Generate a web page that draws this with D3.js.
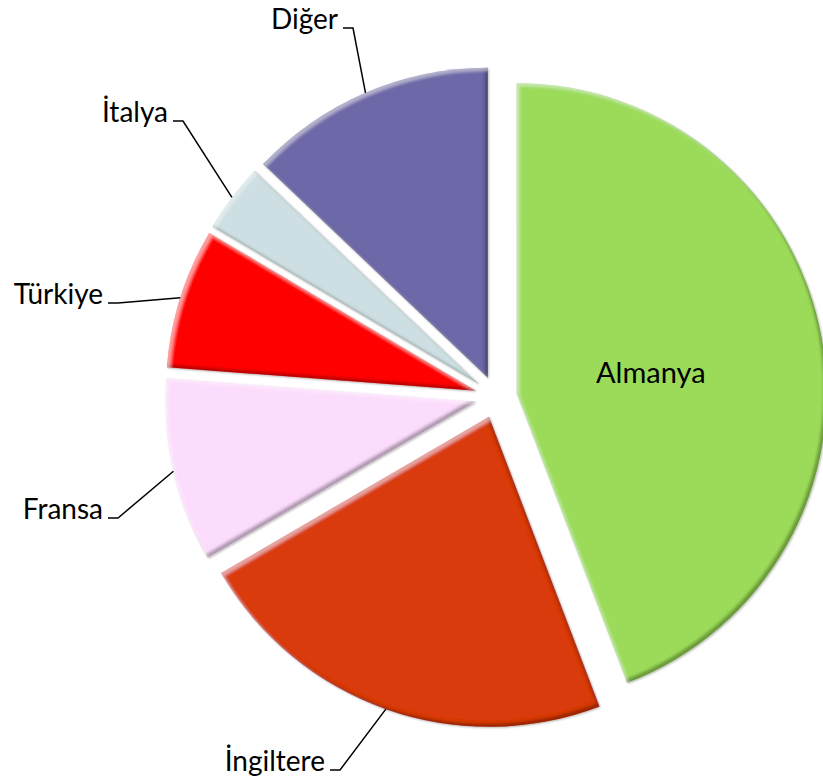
<!DOCTYPE html>
<html>
<head>
<meta charset="utf-8">
<script src="https://cdn.jsdelivr.net/npm/d3@7"></script>
<style>
  body { margin: 0; background: #fff; }
  text { font-family: Lato, "Open Sans", sans-serif; fill: #000; }
</style>
</head>
<body>
<div id="chart"></div>
<script>
// data
var categories = ["Almanya", "İngiltere", "Fransa", "Türkiye", "İtalya", "Diğer"];
var values = [44.2, 22.4, 9.6, 7.3, 3.6, 12.9];
var colors = ["#9CDB5A", "#D93A07", "#FCDCFC", "#FF0000", "#CDDFE2", "#6D68A8"];
// elbow of each leader line (outside labels); null = label inside slice
var labelElbows = [null, [340, 770], [118, 518], [118, 303], [183, 121], [353, 28]];

var width = 823, height = 778,
    cx = 496, cy = 397,
    radius = 310,
    explode = 21;

var svg = d3.select("#chart").append("svg")
    .attr("width", width)
    .attr("height", height);

// bevel-like filter: dark rim bottom-right, light rim top-left, soft shadow
var defs = svg.append("defs");
var f = defs.append("filter").attr("id", "bevel")
    .attr("x", "-10%").attr("y", "-10%").attr("width", "120%").attr("height", "120%");
f.append("feGaussianBlur").attr("in", "SourceAlpha").attr("stdDeviation", 1.6).attr("result", "blur");
f.append("feOffset").attr("in", "blur").attr("dx", -3).attr("dy", -3).attr("result", "offA");
f.append("feComposite").attr("in", "SourceAlpha").attr("in2", "offA").attr("operator", "out").attr("result", "rimDark");
f.append("feFlood").attr("flood-color", "#000").attr("flood-opacity", 0.55).attr("result", "darkCol");
f.append("feComposite").attr("in", "darkCol").attr("in2", "rimDark").attr("operator", "in").attr("result", "dark");
f.append("feOffset").attr("in", "blur").attr("dx", 3).attr("dy", 3).attr("result", "offB");
f.append("feComposite").attr("in", "SourceAlpha").attr("in2", "offB").attr("operator", "out").attr("result", "rimLight");
f.append("feFlood").attr("flood-color", "#fff").attr("flood-opacity", 0.35).attr("result", "lightCol");
f.append("feComposite").attr("in", "lightCol").attr("in2", "rimLight").attr("operator", "in").attr("result", "light");
f.append("feGaussianBlur").attr("in", "SourceAlpha").attr("stdDeviation", 1.2).attr("result", "sb");
f.append("feOffset").attr("in", "sb").attr("dx", 1).attr("dy", 1).attr("result", "so");
f.append("feComponentTransfer").attr("in", "so").attr("result", "shadow")
  .append("feFuncA").attr("type", "linear").attr("slope", 0.3);
var m = f.append("feMerge");
m.append("feMergeNode").attr("in", "shadow");
m.append("feMergeNode").attr("in", "SourceGraphic");
m.append("feMergeNode").attr("in", "dark");
m.append("feMergeNode").attr("in", "light");

var pie = d3.pie().sort(null).value(function(d) { return d; });
var arcs = pie(values);

var arc = d3.arc().innerRadius(0).outerRadius(radius);

function dir(d) {
  var a = (d.startAngle + d.endAngle) / 2;
  return [Math.sin(a), -Math.cos(a)];
}

var g = svg.append("g").attr("transform", "translate(" + cx + "," + cy + ")");

g.selectAll("path.slice")
  .data(arcs)
  .enter().append("path")
    .attr("class", "slice")
    .attr("d", arc)
    .attr("fill", function(d, i) { return colors[i]; })
    .attr("transform", function(d) {
      var v = dir(d);
      return "translate(" + (v[0] * explode) + "," + (v[1] * explode) + ")";
    })
    .style("filter", "url(#bevel)");

// labels
arcs.forEach(function(d, i) {
  var v = dir(d);
  if (!labelElbows[i]) {
    var r = radius * 0.44 + explode;
    svg.append("text")
      .attr("x", cx + v[0] * r)
      .attr("y", cy + v[1] * r + 15)
      .attr("text-anchor", "middle")
      .style("font-size", "29px")
      .text(categories[i]);
    return;
  }
  var sx = cx + v[0] * (radius + explode),
      sy = cy + v[1] * (radius + explode),
      e = labelElbows[i];
  svg.append("polyline")
    .attr("points", [[sx, sy], e, [e[0] - 10, e[1]]].map(function(p) { return p.join(","); }).join(" "))
    .attr("fill", "none")
    .attr("stroke", "#000")
    .attr("stroke-width", 1.5);
  svg.append("text")
    .attr("x", e[0] - 15)
    .attr("y", e[1] + 1)
    .attr("text-anchor", "end")
    .style("font-size", "28px")
    .text(categories[i]);
});
</script>
</body>
</html>
